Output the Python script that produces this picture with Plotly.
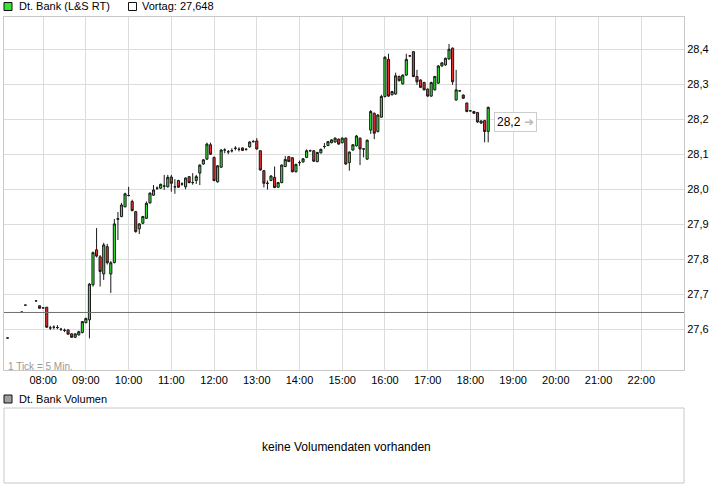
import plotly.graph_objects as go

# ---------------- data ----------------
times = ["07:10", "07:30", "07:35", "07:50", "07:55", "08:00", "08:05", "08:10", "08:15", "08:20",
         "08:25", "08:30", "08:35", "08:40", "08:45", "08:50", "08:55", "09:00", "09:05", "09:10",
         "09:15", "09:20", "09:25", "09:30", "09:35", "09:40", "09:45", "09:50", "09:55", "10:00",
         "10:05", "10:10", "10:15", "10:20", "10:25", "10:30", "10:35", "10:40", "10:45", "10:50",
         "10:55", "11:00", "11:05", "11:10", "11:15", "11:20", "11:25", "11:30", "11:35", "11:40",
         "11:45", "11:50", "11:55", "12:00", "12:05", "12:10", "12:15", "12:20", "12:25", "12:30",
         "12:35", "12:40", "12:45", "12:50", "12:55", "13:00", "13:05", "13:10", "13:15", "13:20",
         "13:25", "13:30", "13:35", "13:40", "13:45", "13:50", "13:55", "14:00", "14:05", "14:10",
         "14:15", "14:20", "14:25", "14:30", "14:35", "14:40", "14:45", "14:50", "14:55", "15:00",
         "15:05", "15:10", "15:15", "15:20", "15:25", "15:30", "15:35", "15:40", "15:45", "15:50",
         "15:55", "16:00", "16:05", "16:10", "16:15", "16:20", "16:25", "16:30", "16:35", "16:40",
         "16:45", "16:50", "16:55", "17:00", "17:05", "17:10", "17:15", "17:20", "17:25", "17:30",
         "17:35", "17:40", "17:45", "17:50", "17:55", "18:00", "18:05", "18:10", "18:15", "18:20",
         "18:25"]

opens = [27.575, 27.649, 27.669, 27.681, 27.667, 27.661, 27.663, 27.604, 27.606, 27.605,
         27.600, 27.597, 27.598, 27.587, 27.577, 27.584, 27.591, 27.619, 27.627, 27.727,
         27.827, 27.807, 27.758, 27.836, 27.758, 27.791, 27.914, 27.922, 27.950, 27.982,
         27.965, 27.936, 27.887, 27.903, 27.917, 27.961, 27.983, 28.003, 28.003, 28.009,
         28.007, 28.035, 28.007, 28.025, 28.015, 28.007, 28.036, 28.019, 28.025, 28.046,
         28.072, 28.086, 28.127, 28.091, 28.021, 28.063, 28.112, 28.107, 28.110, 28.117,
         28.114, 28.118, 28.114, 28.121, 28.136, 28.138, 28.110, 28.053, 28.017, 28.025,
         28.034, 28.006, 28.019, 28.065, 28.093, 28.090, 28.050, 28.076, 28.078, 28.091,
         28.110, 28.110, 28.079, 28.104, 28.122, 28.125, 28.133, 28.135, 28.143, 28.133,
         28.146, 28.076, 28.112, 28.124, 28.146, 28.115, 28.086, 28.169, 28.217, 28.165,
         28.206, 28.265, 28.371, 28.270, 28.272, 28.322, 28.301, 28.326, 28.381, 28.393,
         28.322, 28.312, 28.305, 28.286, 28.266, 28.284, 28.303, 28.352, 28.355, 28.372,
         28.403, 28.255, 28.281, 28.269, 28.246, 28.224, 28.222, 28.219, 28.189, 28.196,
         28.165]

highs = [27.575, 27.649, 27.669, 27.681, 27.668, 27.661, 27.664, 27.610, 27.611, 27.612,
         27.604, 27.602, 27.600, 27.588, 27.588, 27.596, 27.623, 27.633, 27.732, 27.822,
         27.889, 27.812, 27.847, 27.844, 27.795, 27.915, 27.935, 27.961, 27.990, 28.007,
         27.970, 27.938, 27.903, 27.924, 27.965, 27.991, 28.012, 28.008, 28.016, 28.041,
         28.041, 28.041, 28.029, 28.027, 28.020, 28.034, 28.038, 28.046, 28.041, 28.071,
         28.086, 28.133, 28.133, 28.093, 28.069, 28.115, 28.117, 28.112, 28.117, 28.123,
         28.120, 28.120, 28.117, 28.137, 28.141, 28.146, 28.112, 28.055, 28.025, 28.040,
         28.065, 28.021, 28.071, 28.095, 28.095, 28.092, 28.073, 28.082, 28.089, 28.114,
         28.113, 28.112, 28.107, 28.116, 28.132, 28.138, 28.143, 28.148, 28.145, 28.148,
         28.148, 28.108, 28.129, 28.155, 28.148, 28.117, 28.142, 28.226, 28.219, 28.215,
         28.270, 28.380, 28.387, 28.281, 28.333, 28.325, 28.328, 28.387, 28.383, 28.395,
         28.341, 28.314, 28.307, 28.288, 28.307, 28.324, 28.355, 28.363, 28.376, 28.415,
         28.405, 28.341, 28.283, 28.271, 28.248, 28.226, 28.224, 28.221, 28.197, 28.198,
         28.236]

lows = [27.575, 27.649, 27.669, 27.681, 27.659, 27.661, 27.604, 27.598, 27.600, 27.600,
        27.595, 27.592, 27.585, 27.576, 27.576, 27.582, 27.588, 27.617, 27.574, 27.722,
        27.805, 27.722, 27.741, 27.785, 27.704, 27.788, 27.855, 27.920, 27.948, 27.980,
        27.937, 27.876, 27.872, 27.900, 27.915, 27.959, 27.981, 27.998, 28.001, 27.998,
        28.005, 27.993, 27.987, 28.004, 28.010, 28.000, 28.017, 28.013, 28.015, 28.012,
        28.070, 28.084, 28.098, 28.023, 28.019, 28.061, 28.103, 28.100, 28.105, 28.111,
        28.108, 28.109, 28.110, 28.119, 28.134, 28.113, 28.053, 28.005, 27.999, 28.023,
        28.003, 28.004, 28.017, 28.063, 28.078, 28.048, 28.048, 28.067, 28.076, 28.089,
        28.107, 28.078, 28.077, 28.102, 28.116, 28.123, 28.131, 28.133, 28.127, 28.131,
        28.070, 28.053, 28.110, 28.122, 28.069, 28.091, 28.084, 28.158, 28.143, 28.162,
        28.204, 28.262, 28.264, 28.268, 28.270, 28.308, 28.299, 28.324, 28.378, 28.320,
        28.298, 28.289, 28.282, 28.264, 28.264, 28.282, 28.301, 28.350, 28.353, 28.370,
        28.298, 28.253, 28.279, 28.258, 28.220, 28.222, 28.215, 28.190, 28.187, 28.134,
        28.134]

closes = [27.575, 27.649, 27.669, 27.681, 27.660, 27.661, 27.606, 27.604, 27.606, 27.605,
          27.600, 27.597, 27.586, 27.577, 27.587, 27.593, 27.622, 27.631, 27.729, 27.819,
          27.809, 27.765, 27.841, 27.790, 27.790, 27.901, 27.916, 27.955, 27.987, 27.982,
          27.939, 27.879, 27.901, 27.922, 27.960, 27.989, 27.998, 28.003, 28.014, 28.009,
          28.034, 28.017, 28.007, 28.006, 28.015, 28.032, 28.019, 28.019, 28.036, 28.069,
          28.084, 28.129, 28.100, 28.025, 28.067, 28.112, 28.112, 28.107, 28.110, 28.117,
          28.114, 28.111, 28.114, 28.135, 28.136, 28.115, 28.055, 28.017, 28.017, 28.038,
          28.005, 28.019, 28.069, 28.085, 28.079, 28.050, 28.071, 28.076, 28.087, 28.110,
          28.110, 28.080, 28.105, 28.114, 28.122, 28.136, 28.141, 28.146, 28.129, 28.146,
          28.072, 28.106, 28.127, 28.152, 28.115, 28.115, 28.140, 28.222, 28.160, 28.212,
          28.265, 28.377, 28.266, 28.279, 28.324, 28.310, 28.326, 28.371, 28.381, 28.322,
          28.307, 28.291, 28.284, 28.266, 28.305, 28.322, 28.352, 28.361, 28.374, 28.400,
          28.307, 28.284, 28.281, 28.260, 28.222, 28.224, 28.217, 28.192, 28.195, 28.165,
          28.234]

prev_close = 27.648
prev_close_label = "Vortag: 27,648"
last_label = "28,2"
hour_labels = ["08:00", "09:00", "10:00", "11:00", "12:00", "13:00", "14:00", "15:00",
               "16:00", "17:00", "18:00", "19:00", "20:00", "21:00", "22:00"]
price_ticks = [27.6, 27.7, 27.8, 27.9, 28.0, 28.1, 28.2, 28.3, 28.4]
price_tick_labels = ["27,6", "27,7", "27,8", "27,9", "28,0", "28,1", "28,2", "28,3", "28,4"]

# ---------------- figure ----------------
W, H = 726, 496
DAY = "2024-01-02 "
FONT = "Liberation Sans, Arial, sans-serif"
GREEN = "#33e633"
RED = "#e83030"


def px(x):
    return x / W


def py(y):
    return 1 - y / H


fig = go.Figure()
fig.add_trace(go.Candlestick(
    x=[DAY + t for t in times],
    open=opens, high=highs, low=lows, close=closes,
    increasing=dict(fillcolor=GREEN, line=dict(color="#1a1a1a", width=1)),
    decreasing=dict(fillcolor=RED, line=dict(color="#1a1a1a", width=1)),
    whiskerwidth=0,
    showlegend=False,
    hoverinfo="skip",
))

grid = "#dcdcdc"
border = "#c8c8c8"

fig.update_layout(
    width=W, height=H,
    margin=dict(l=0, r=0, t=0, b=0),
    paper_bgcolor="white", plot_bgcolor="white",
    font=dict(family=FONT, size=11, color="#000000"),
    boxgap=0.15,
    xaxis=dict(
        domain=[px(4), px(684)],
        type="date",
        range=[DAY + "07:05", DAY + "23:00"],
        tickvals=[DAY + h for h in hour_labels],
        ticktext=hour_labels,
        showgrid=True, gridcolor=grid, gridwidth=1,
        showline=True, linecolor=border, mirror=True,
        ticks="", zeroline=False,
        rangeslider=dict(visible=False),
        fixedrange=True,
        tickfont=dict(size=11, color="#000"),
    ),
    yaxis=dict(
        domain=[py(370), py(17)],
        range=[27.4837, 28.492],
        side="right",
        tickvals=price_ticks,
        ticktext=price_tick_labels,
        showgrid=True, gridcolor=grid, gridwidth=1,
        showline=True, linecolor=border, mirror=True,
        ticks="", zeroline=False,
        fixedrange=True,
        tickfont=dict(size=11, color="#000"),
    ),
)

shapes = [
    # previous close line
    dict(type="line", xref="x domain", yref="y", x0=0, x1=1, y0=prev_close, y1=prev_close,
         line=dict(color="#707070", width=1)),
    # legend squares
    dict(type="rect", xref="paper", yref="paper", x0=px(4), x1=px(12), y0=py(10.5), y1=py(2.5),
         fillcolor=GREEN, line=dict(color="#111111", width=1)),
    dict(type="rect", xref="paper", yref="paper", x0=px(128.5), x1=px(136.5), y0=py(10.5), y1=py(2.5),
         fillcolor="#ffffff", line=dict(color="#111111", width=1)),
    # volume legend square
    dict(type="rect", xref="paper", yref="paper", x0=px(4), x1=px(12), y0=py(403), y1=py(395),
         fillcolor="#a0a0a0", line=dict(color="#111111", width=1)),
    # volume panel box
    dict(type="rect", xref="paper", yref="paper", x0=px(4), x1=px(684), y0=py(483), y1=py(408),
         fillcolor="rgba(0,0,0,0)", line=dict(color=border, width=1)),
]

annotations = [
    dict(text="Dt. Bank (L&amp;S RT)", xref="paper", yref="paper", x=px(16.5), y=py(6.5),
         xanchor="left", yanchor="middle", showarrow=False, font=dict(size=11, color="#000")),
    dict(text=prev_close_label, xref="paper", yref="paper", x=px(140), y=py(6.5),
         xanchor="left", yanchor="middle", showarrow=False, font=dict(size=11, color="#000")),
    dict(text="1 Tick = 5 Min.", xref="paper", yref="paper", x=px(6), y=py(366),
         xanchor="left", yanchor="middle", showarrow=False, font=dict(size=10, color="#999999")),
    dict(text="Dt. Bank Volumen", xref="paper", yref="paper", x=px(16.5), y=py(399),
         xanchor="left", yanchor="middle", showarrow=False, font=dict(size=11, color="#000")),
    dict(text="keine Volumendaten vorhanden", xref="paper", yref="paper", x=px(346), y=py(447),
         xanchor="center", yanchor="middle", showarrow=False, font=dict(size=12, color="#000")),
    dict(text=last_label + " <span style='color:#bbbbbb'>➜</span>", xref="paper", yref="paper",
         x=px(494), y=py(122), xanchor="left", yanchor="middle", showarrow=False,
         bgcolor="white", bordercolor="#cccccc", borderwidth=1, borderpad=2,
         font=dict(size=12, color="#000")),
]

fig.update_layout(shapes=shapes, annotations=annotations)

fig.write_html(
    "out.html",
    config={"displayModeBar": False, "staticPlot": True},
    post_script="document.body.style.margin='0';document.body.style.padding='0';",
)
